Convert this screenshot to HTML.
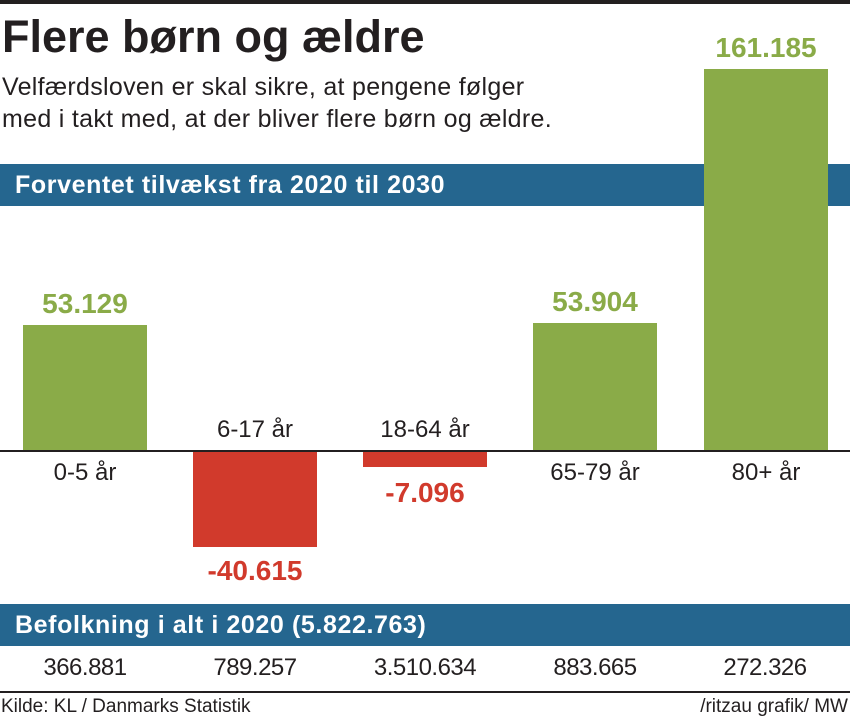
<!DOCTYPE html>
<html><head><meta charset="utf-8"><style>
body{margin:0;width:850px;height:719px;background:#fff;position:relative;overflow:hidden;font-family:"Liberation Sans",sans-serif;color:#231f20}
div{position:absolute}
.t{white-space:nowrap}
.bar{position:absolute}
.g{background:#8aab48}.r{background:#d13a2c}
.vl{font-weight:bold;font-size:28px;width:160px;margin-left:-18px;text-align:center}
.cl{font-size:24px;width:160px;margin-left:-18px;text-align:center}
.pop{font-size:24px;width:170px;text-align:center;top:654px;letter-spacing:-0.5px}
.ban{left:0;width:850px;height:42px;background:#25668f;color:#fff;font-weight:bold;font-size:25px;letter-spacing:0.6px;line-height:42px;padding-left:15px;box-sizing:border-box}
</style></head><body>
<div style="left:0;top:0;width:850px;height:4px;background:#231f20"></div>
<div class="t" style="left:2px;top:11px;font-size:45px;font-weight:bold;letter-spacing:0px">Flere børn og ældre</div>
<div class="t" style="left:2px;top:71px;font-size:25px;letter-spacing:0.3px;line-height:32px">Velfærdsloven er skal sikre, at pengene følger<br>med i takt med, at der bliver flere børn og ældre.</div>
<div class="ban" style="top:164px">Forventet tilvækst fra 2020 til 2030</div>

<div class="bar g" style="left:23px;top:325px;width:124px;height:126px"></div>
<div class="bar r" style="left:193px;top:451px;width:124px;height:96px"></div>
<div class="bar r" style="left:363px;top:451px;width:124px;height:16px"></div>
<div class="bar g" style="left:533px;top:323px;width:124px;height:128px"></div>
<div class="bar g" style="left:704px;top:69px;width:124px;height:382px"></div>
<div style="left:0;top:450px;width:850px;height:2px;background:#231f20"></div>

<div class="vl" style="left:23px;top:288px;color:#8aab48">53.129</div>
<div class="vl" style="left:193px;top:555px;color:#d13a2c">-40.615</div>
<div class="vl" style="left:363px;top:477px;color:#d13a2c">-7.096</div>
<div class="vl" style="left:533px;top:286px;color:#8aab48">53.904</div>
<div class="vl" style="left:704px;top:32px;color:#8aab48">161.185</div>

<div class="cl" style="left:23px;top:459px">0-5 år</div>
<div class="cl" style="left:193px;top:416px">6-17 år</div>
<div class="cl" style="left:363px;top:416px">18-64 år</div>
<div class="cl" style="left:533px;top:459px">65-79 år</div>
<div class="cl" style="left:704px;top:459px">80+ år</div>

<div class="ban" style="top:604px">Befolkning i alt i 2020 (5.822.763)</div>
<div class="pop" style="left:0">366.881</div>
<div class="pop" style="left:170px">789.257</div>
<div class="pop" style="left:340px">3.510.634</div>
<div class="pop" style="left:510px">883.665</div>
<div class="pop" style="left:680px">272.326</div>
<div style="left:0;top:691px;width:850px;height:2px;background:#231f20"></div>
<div class="t" style="left:1px;top:696px;font-size:19px">Kilde: KL / Danmarks Statistik</div>
<div class="t" style="right:2px;top:696px;font-size:19px">/ritzau grafik/ MW</div>
</body></html>
